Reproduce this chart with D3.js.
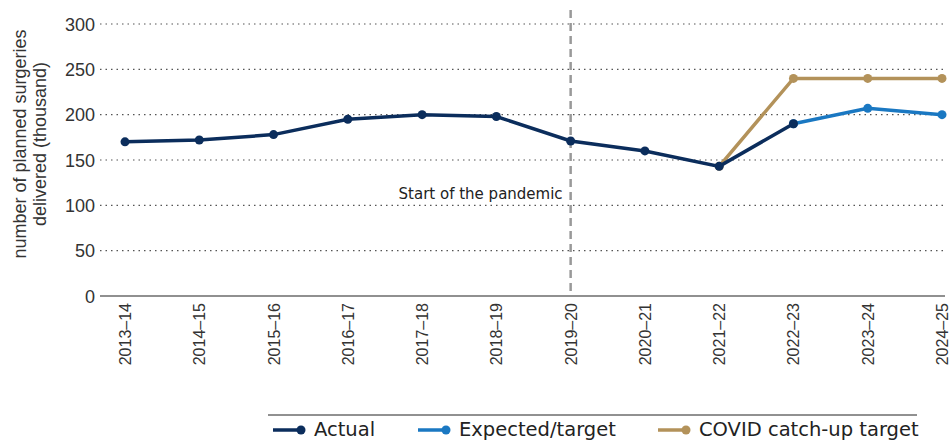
<!DOCTYPE html>
<html>
<head>
<meta charset="utf-8">
<script src="https://cdn.jsdelivr.net/npm/d3@7"></script>
<style>
body { margin: 0; background: #fff; }
svg { font-family: "Liberation Sans", Arial, sans-serif; }
.soft { font-family: "DejaVu Sans", "Noto Sans", sans-serif; }
</style>
</head>
<body>
<svg width="950" height="440"></svg>
<script>
var years = ["2013\u201314", "2014\u201315", "2015\u201316", "2016\u201317", "2017\u201318", "2018\u201319",
    "2019\u201320", "2020\u201321", "2021\u201322", "2022\u201323", "2023\u201324", "2024\u201325"];
var actual = [170, 172, 178, 195, 200, 198, 171, 160, 143, 190, null, null];
var expected = [null, null, null, null, null, null, null, null, null, 190, 207, 200];
var covid = [null, null, null, null, null, null, null, null, 143, 240, 240, 240];
var yTicks = [0, 50, 100, 150, 200, 250, 300];
var pandemicYear = "2019\u201320";

var svg = d3.select("svg");
var plotLeft = 100, plotRight = 945, plotTop = 24, plotBottom = 296;

var x = d3.scalePoint().domain(years).range([125, 942]);
var y = d3.scaleLinear().domain([0, 300]).range([plotBottom, plotTop]);

// gridlines
svg.append("g")
    .selectAll("line")
    .data(yTicks.filter(d => d > 0))
    .enter().append("line")
      .attr("x1", plotLeft).attr("x2", plotRight)
      .attr("y1", d => y(d)).attr("y2", d => y(d))
      .attr("stroke", "#555").attr("stroke-width", 1.2)
      .attr("stroke-dasharray", "1.5,4");

// y tick labels
svg.append("g")
    .selectAll("text")
    .data(yTicks)
    .enter().append("text")
      .attr("x", 95).attr("y", d => y(d) + 6.5)
      .attr("text-anchor", "end")
      .attr("font-size", 18).attr("fill", "#333")
      .text(d => d);

// axis line
svg.append("line")
    .attr("x1", plotLeft).attr("x2", plotRight)
    .attr("y1", y(0)).attr("y2", y(0))
    .attr("stroke", "#222").attr("stroke-width", 1.2);

// x labels
svg.append("g")
    .selectAll("text")
    .data(years)
    .enter().append("text")
      .attr("transform", d => "translate(" + (x(d) + 6) + "," + (y(0) + 7) + ") rotate(-90)")
      .attr("text-anchor", "end")
      .attr("font-size", 16).attr("fill", "#333")
      .text(d => d);

// y title
svg.append("text")
    .attr("transform", "translate(26,144) rotate(-90)")
    .attr("text-anchor", "middle")
    .attr("font-size", 18).attr("fill", "#333")
    .selectAll("tspan")
    .data(["number of planned surgeries", "delivered (thousand)"])
    .enter().append("tspan")
      .attr("x", 0).attr("dy", (d, i) => i === 0 ? 0 : 20)
      .text(d => d);

// pandemic marker
svg.append("line")
    .attr("x1", x(pandemicYear)).attr("x2", x(pandemicYear))
    .attr("y1", 10).attr("y2", y(0))
    .attr("stroke", "#999").attr("stroke-width", 2.5)
    .attr("stroke-dasharray", "8,5");

svg.append("text")
    .attr("class", "soft")
    .attr("x", x(pandemicYear) - 8).attr("y", 199)
    .attr("text-anchor", "end")
    .attr("font-size", 15).attr("fill", "#222")
    .text("Start of the pandemic");

var series = [
  { name: "COVID catch-up target", values: covid, color: "#b3925a" },
  { name: "Expected/target", values: expected, color: "#1a78c2" },
  { name: "Actual", values: actual, color: "#0b2d5c" }
];

var line = d3.line()
    .defined(d => d.v != null)
    .x(d => x(d.year))
    .y(d => y(d.v));

series.forEach(function(s) {
  var pts = years.map((yr, i) => ({ year: yr, v: s.values[i] }));
  svg.append("path")
      .datum(pts)
      .attr("d", line)
      .attr("fill", "none")
      .attr("stroke", s.color)
      .attr("stroke-width", 3.5);
  svg.append("g")
    .selectAll("circle")
    .data(pts.filter(d => d.v != null))
    .enter().append("circle")
      .attr("cx", d => x(d.year)).attr("cy", d => y(d.v))
      .attr("r", 4.5).attr("fill", s.color);
});

// legend
svg.append("line")
    .attr("x1", 268).attr("x2", 917)
    .attr("y1", 415).attr("y2", 415)
    .attr("stroke", "#222").attr("stroke-width", 1);

var legendItems = [
  { name: "Actual", color: "#0b2d5c", x: 273 },
  { name: "Expected/target", color: "#1a78c2", x: 418 },
  { name: "COVID catch-up target", color: "#b3925a", x: 658 }
];
var lg = svg.append("g")
    .selectAll("g")
    .data(legendItems)
    .enter().append("g")
      .attr("transform", d => "translate(" + d.x + ",430)");
lg.append("line")
    .attr("x1", 0).attr("x2", 27)
    .attr("stroke", d => d.color).attr("stroke-width", 3.5);
lg.append("circle")
    .attr("cx", 28).attr("r", 4.5).attr("fill", d => d.color);
lg.append("text")
    .attr("class", "soft")
    .attr("x", 41).attr("y", 6)
    .attr("font-size", 19.5).attr("fill", "#222")
    .text(d => d.name);
</script>
</body>
</html>
